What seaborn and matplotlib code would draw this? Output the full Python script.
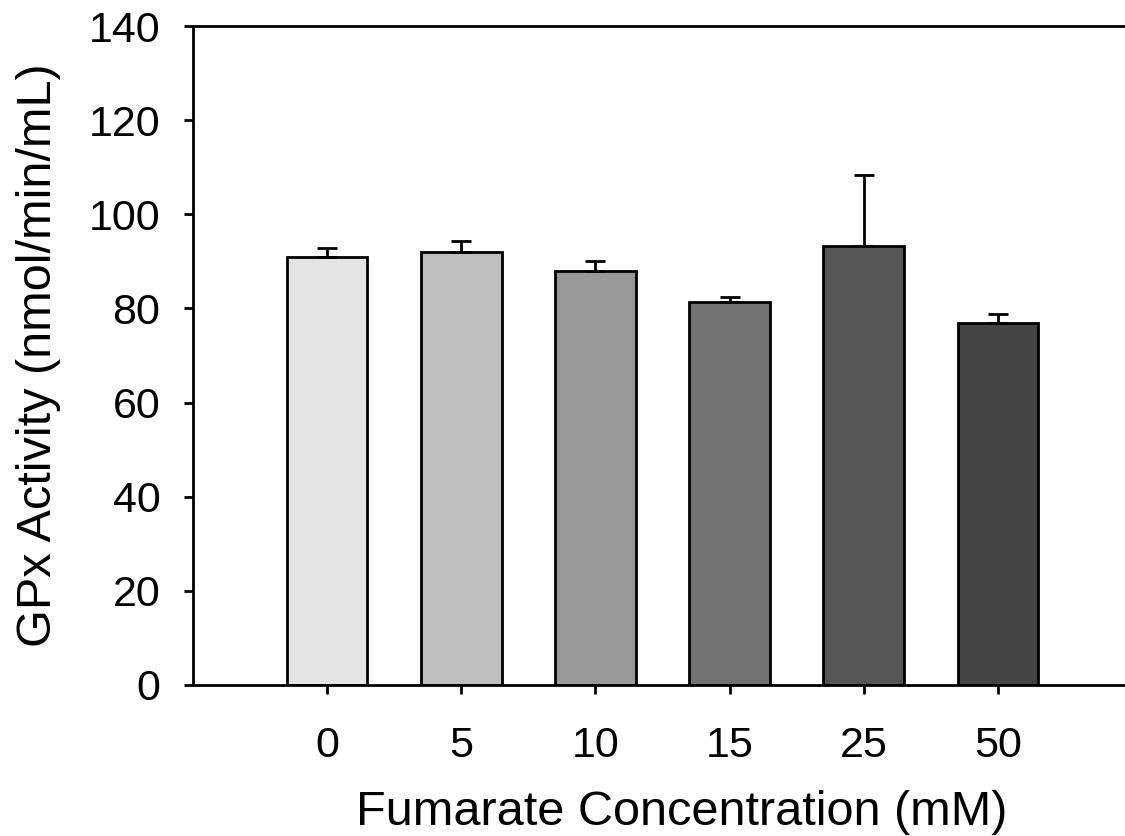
import numpy as np
import pandas as pd
import matplotlib
matplotlib.use("Agg")
import matplotlib.pyplot as plt
import seaborn as sns

# ==============================
# Data
# ==============================
concentrations = ["0", "5", "10", "15", "25", "50"]
gpx_activity = [90.9, 91.9, 87.9, 81.4, 93.2, 76.8]
gpx_error = [1.9, 2.4, 2.2, 1.0, 15.2, 2.1]
bar_colors = ["#e4e4e4", "#bebebe", "#999999", "#727272", "#555555", "#444444"]

df = pd.DataFrame({"conc": concentrations, "gpx": gpx_activity, "err": gpx_error})

# ==============================
# Plot
# ==============================
sns.set_style("white")
plt.rcParams["font.family"] = ["Liberation Sans", "DejaVu Sans"]
plt.rcParams["text.color"] = "black"
plt.rcParams["axes.labelcolor"] = "black"
plt.rcParams["xtick.color"] = "black"
plt.rcParams["ytick.color"] = "black"

W, H = 1125, 836
fig = plt.figure(figsize=(W / 100, H / 100), dpi=100)
ax = fig.add_axes([193 / W, (H - 685) / H, (1132 - 193) / W, (685 - 26) / H])

lw = 2.0
sns.barplot(
    data=df, x="conc", y="gpx", hue="conc", palette=bar_colors, legend=False,
    width=0.6, edgecolor="black", linewidth=lw, ax=ax, errorbar=None,
)
# upper error bars only
ax.errorbar(
    x=np.arange(len(df)), y=df["gpx"], yerr=[np.zeros(len(df)), df["err"]],
    fmt="none", ecolor="black", elinewidth=lw, capsize=7.5, capthick=lw, zorder=1,
)

ax.set_xlim(-1, 6)
ax.set_ylim(0, 140)
ax.set_yticks(range(0, 141, 20))

for side in ["left", "bottom", "top"]:
    ax.spines[side].set_visible(True)
    ax.spines[side].set_color("black")
    ax.spines[side].set_linewidth(lw)
ax.spines["right"].set_visible(False)

ax.tick_params(axis="both", direction="out", length=6.5, width=lw, color="black",
               labelsize=31, labelcolor="black", left=True, bottom=True)
ax.tick_params(axis="y", pad=17)
ax.tick_params(axis="x", pad=23)
ax.set_xlabel("Fumarate Concentration (mM)", fontsize=35)
ax.set_ylabel("GPx Activity (nmol/min/mL)", fontsize=35, labelpad=20)
ax.xaxis.set_label_coords(0.52, -0.16)

fig.savefig("out.png", dpi=100)
plt.close(fig)
